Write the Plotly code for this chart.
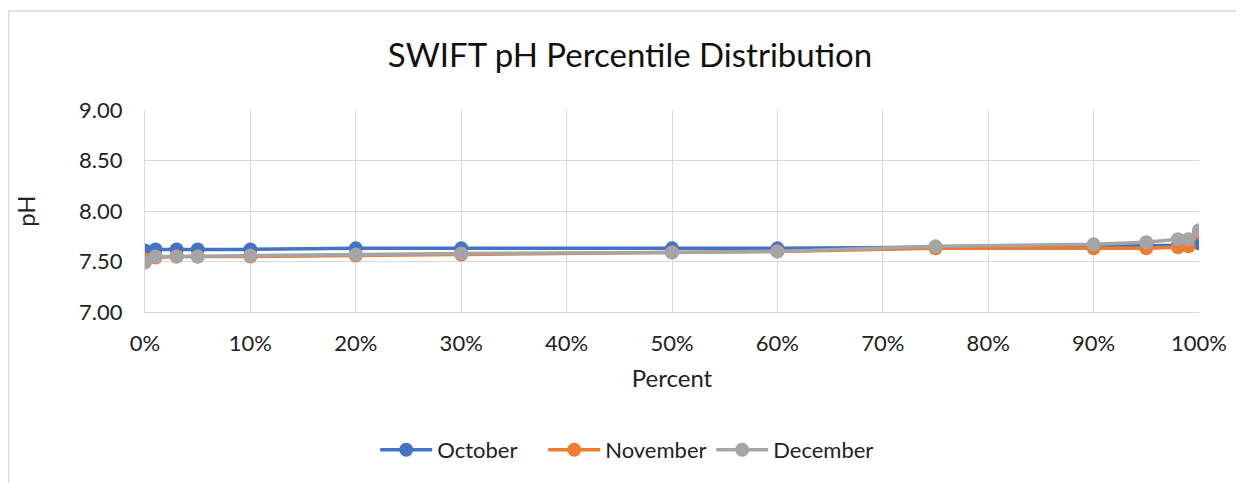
import plotly.graph_objects as go

percent = [0, 1, 3, 5, 10, 20, 30, 50, 60, 75, 90, 95, 98, 99, 100]
october = [7.61, 7.62, 7.62, 7.62, 7.62, 7.63, 7.63, 7.63, 7.63, 7.64, 7.65, 7.66, 7.66, 7.66, 7.68]
november = [7.52, 7.54, 7.55, 7.55, 7.55, 7.56, 7.57, 7.59, 7.60, 7.63, 7.63, 7.63, 7.64, 7.65, 7.79]
december = [7.49, 7.55, 7.55, 7.55, 7.56, 7.57, 7.58, 7.59, 7.60, 7.65, 7.67, 7.69, 7.72, 7.72, 7.81]

series = [("October", october, "#4472C4"),
          ("November", november, "#ED7D31"),
          ("December", december, "#A5A5A5")]

font = "Lato, 'Open Sans', sans-serif"

fig = go.Figure()
for name, vals, col in series:
    fig.add_trace(go.Scatter(x=percent, y=vals, name=name, mode="lines+markers",
                             line=dict(color=col, width=3.5),
                             marker=dict(color=col, size=14)))

fig.update_layout(
    width=1244, height=483,
    margin=dict(l=137, r=53, t=102, b=179),
    paper_bgcolor="white", plot_bgcolor="white",
    font=dict(family=font, size=22, color="#222"),
    title=dict(text="SWIFT pH Percentile Distribution", x=0.5, xanchor="center",
               y=0.902, yanchor="middle", font=dict(size=33, color="#111")),
    showlegend=True,
    legend=dict(orientation="h", x=0.4575, xanchor="center", y=-0.683, yanchor="middle",
                font=dict(size=22), itemwidth=52, entrywidth=101),
)
fig.update_xaxes(range=[0, 100], dtick=10, ticksuffix="%", showgrid=True,
                 gridcolor="#d9d9d9", showline=True, linecolor="#d9d9d9",
                 zeroline=False, ticks="", ticklabelstandoff=12,
                 title=dict(text="Percent", standoff=14),
                 title_font=dict(size=24))
fig.update_yaxes(range=[7.0, 9.0], dtick=0.5, tickformat=".2f", showgrid=True,
                 gridcolor="#d9d9d9", showline=True, linecolor="#d9d9d9",
                 zeroline=False, ticks="", ticklabelstandoff=17,
                 title=dict(text="pH", standoff=36),
                 title_font=dict(size=24))

fig.add_shape(type="rect", xref="paper", yref="paper", x0=-0.1295, x1=1.2,
              y0=-1.0, y1=1.49, line=dict(color="#d9d9d9", width=1.5), layer="below")

fig.write_html("out.html")
